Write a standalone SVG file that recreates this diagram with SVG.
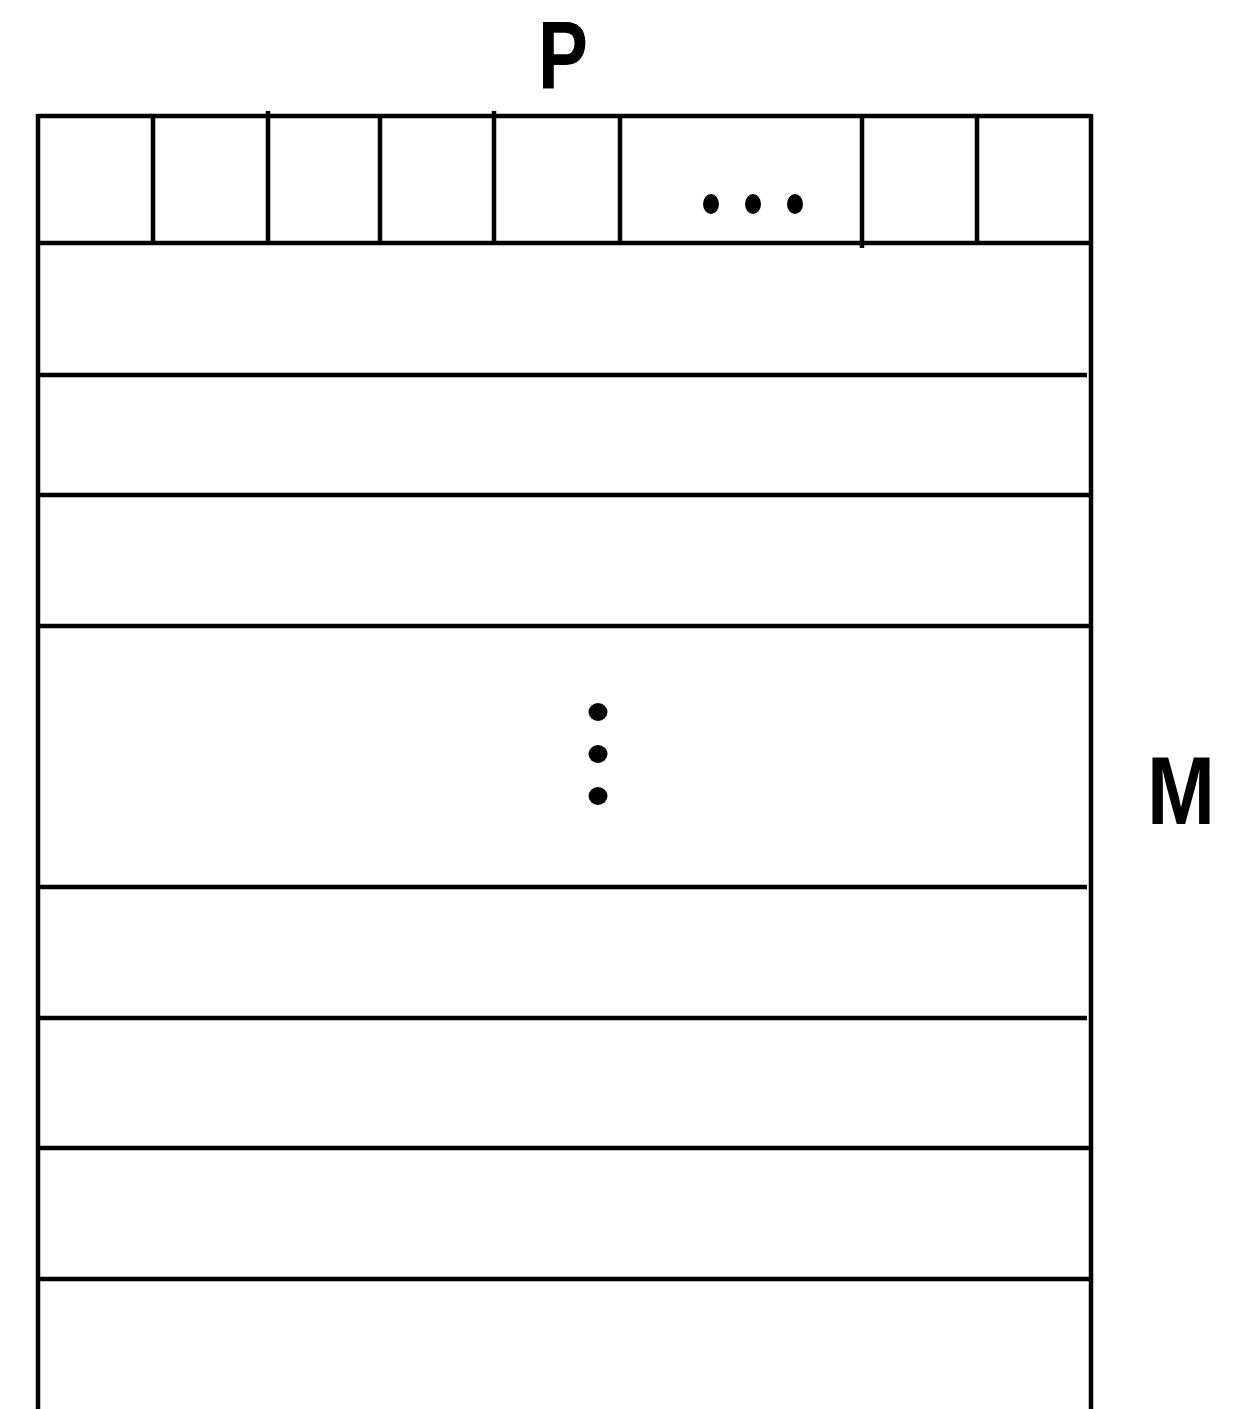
<svg xmlns="http://www.w3.org/2000/svg" width="1242" height="1409" viewBox="0 0 1242 1409">
<style>
.ln{stroke:#000;stroke-width:4.5;fill:none}
.lbl{font-family:"Liberation Sans",Arial,sans-serif;font-weight:bold;font-size:96px;fill:#000;text-anchor:middle}
.dot{fill:#000}
</style>
<rect width="1242" height="1409" fill="#fff"/>
<g id="matrix">
<line class="ln" x1="38" y1="116" x2="1091" y2="116"/>
<line class="ln" x1="38" y1="243" x2="1091" y2="243"/>
<line class="ln" x1="38" y1="114" x2="38" y2="1409"/>
<line class="ln" x1="1091" y1="114" x2="1091" y2="1409"/>
<line class="ln" x1="153" y1="116" x2="153" y2="243"/>
<line class="ln" x1="268" y1="111" x2="268" y2="243"/>
<line class="ln" x1="380" y1="116" x2="380" y2="243"/>
<line class="ln" x1="494" y1="111" x2="494" y2="243"/>
<line class="ln" x1="620" y1="116" x2="620" y2="243"/>
<line class="ln" x1="862" y1="116" x2="862" y2="248"/>
<line class="ln" x1="977" y1="116" x2="977" y2="243"/>
<line class="ln" x1="38" y1="375" x2="1087" y2="375"/>
<line class="ln" x1="38" y1="495" x2="1091" y2="495"/>
<line class="ln" x1="38" y1="626" x2="1091" y2="626"/>
<line class="ln" x1="38" y1="887" x2="1087" y2="887"/>
<line class="ln" x1="38" y1="1018" x2="1087" y2="1018"/>
<line class="ln" x1="38" y1="1148" x2="1091" y2="1148"/>
<line class="ln" x1="38" y1="1279" x2="1091" y2="1279"/>
</g>
<g id="hdots">
<ellipse class="dot" cx="711" cy="204" rx="8" ry="10"/>
<ellipse class="dot" cx="753" cy="204" rx="8" ry="10"/>
<ellipse class="dot" cx="795" cy="204" rx="8" ry="10"/>
</g>
<g id="vdots">
<ellipse class="dot" cx="598" cy="712" rx="9.5" ry="9"/>
<ellipse class="dot" cx="598" cy="754" rx="9.5" ry="9"/>
<ellipse class="dot" cx="598" cy="796" rx="9.5" ry="9"/>
</g>
<g id="label-P"><text class="lbl" transform="translate(563,88) scale(0.78,1)">P</text></g>
<g id="label-M"><text class="lbl" transform="translate(1181,824) scale(0.85,1)">M</text></g>
</svg>
